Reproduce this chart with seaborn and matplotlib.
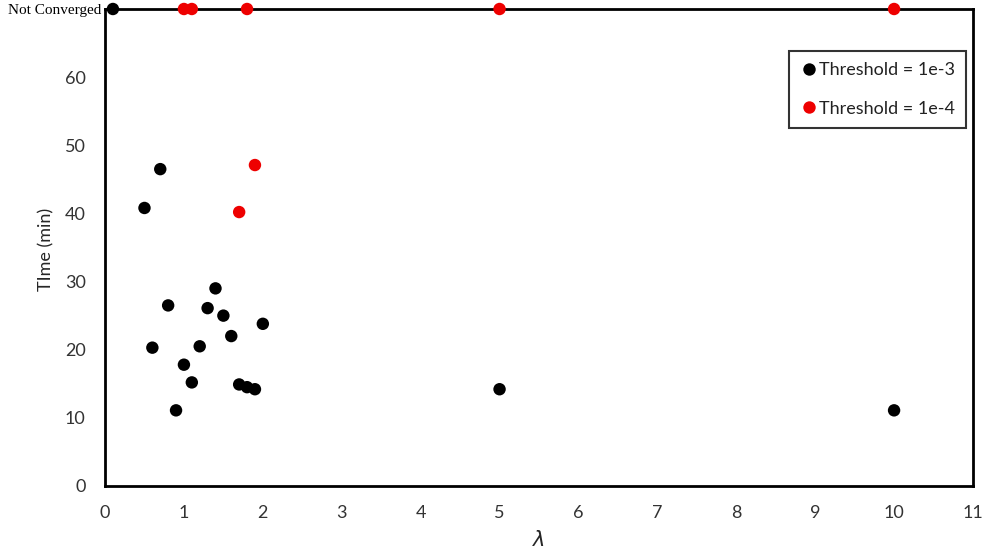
import numpy as np
import pandas as pd
import matplotlib
matplotlib.use("Agg")
import matplotlib.pyplot as plt
import seaborn as sns

# 未收敛的点画在 y = 70 处（标注为 Not Converged）
NOT_CONVERGED = 70

lam_1e3 = [0.1, 0.5, 0.6, 0.7, 0.8, 0.9, 1.0, 1.1, 1.2, 1.3, 1.4, 1.5, 1.6, 1.7, 1.8, 1.9, 2.0, 5, 10]
time_1e3 = [NOT_CONVERGED, 40.8, 20.3, 46.5, 26.5, 11.1, 17.8, 15.2, 20.5, 26.1, 29.0, 25.0, 22.0,
            14.9, 14.5, 14.2, 23.8, 14.2, 11.1]

lam_1e4 = [1.0, 1.1, 1.7, 1.8, 1.9, 5, 10]
time_1e4 = [NOT_CONVERGED, NOT_CONVERGED, 40.2, NOT_CONVERGED, 47.1, NOT_CONVERGED, NOT_CONVERGED]

labels = ["Threshold = 1e-3", "Threshold = 1e-4"]
y_ticks = [0, 10, 20, 30, 40, 50, 60]

df = pd.DataFrame({
    "lam": lam_1e3 + lam_1e4,
    "time": time_1e3 + time_1e4,
    "series": [labels[0]] * len(lam_1e3) + [labels[1]] * len(lam_1e4),
})

sns.set_style("white")
plt.rcParams["font.family"] = ["Lato", "DejaVu Sans"]

fig = plt.figure(figsize=(9.88, 5.52), dpi=100)
ax = fig.add_axes([0.1063, 0.1196, 0.8785, 0.8641])

sns.scatterplot(data=df, x="lam", y="time", hue="series",
                palette={labels[0]: "#000000", labels[1]: "#ee0000"},
                s=80, edgecolor="none", ax=ax, clip_on=False, zorder=3)

ax.set_xlim(0, 11)
ax.set_ylim(0, NOT_CONVERGED)
ax.set_xticks(range(0, 12))
ax.set_yticks(y_ticks + [NOT_CONVERGED])
ax.set_yticklabels([str(t) for t in y_ticks] + ["Not Converged"])
ax.tick_params(axis="both", length=0, labelsize=13, colors="#333333")
ax.tick_params(axis="x", pad=14)
ax.tick_params(axis="y", pad=14)
nc = ax.get_yticklabels()[-1]
nc.set_family("Liberation Serif")
nc.set_fontsize(11)
nc.set_color("black")
nc.set_x(-0.004)
nc.set_transform(ax.get_yaxis_transform())
nc.set_horizontalalignment("right")

for sp in ax.spines.values():
    sp.set_visible(True)
    sp.set_color("black")
    sp.set_linewidth(2)

ax.set_xlabel(r"$\lambda$", fontsize=15, va="center")
ax.xaxis.set_label_coords(0.5, -0.113)
ax.set_ylabel("TIme (min)", fontsize=13)
ax.yaxis.set_label_coords(-0.058, 0.495)

leg = ax.legend(loc="upper right", bbox_to_anchor=(0.992, 0.912), fontsize=13,
                frameon=True, fancybox=False, handletextpad=0.05, borderpad=0.62,
                labelspacing=1.25, handlelength=1.0, borderaxespad=0, markerscale=1.0)
leg.get_frame().set_edgecolor("black")
leg.get_frame().set_linewidth(1.5)
leg.set_zorder(5)
for t in leg.get_texts():
    t.set_color("#222222")

fig.savefig("out.png", dpi=100)
